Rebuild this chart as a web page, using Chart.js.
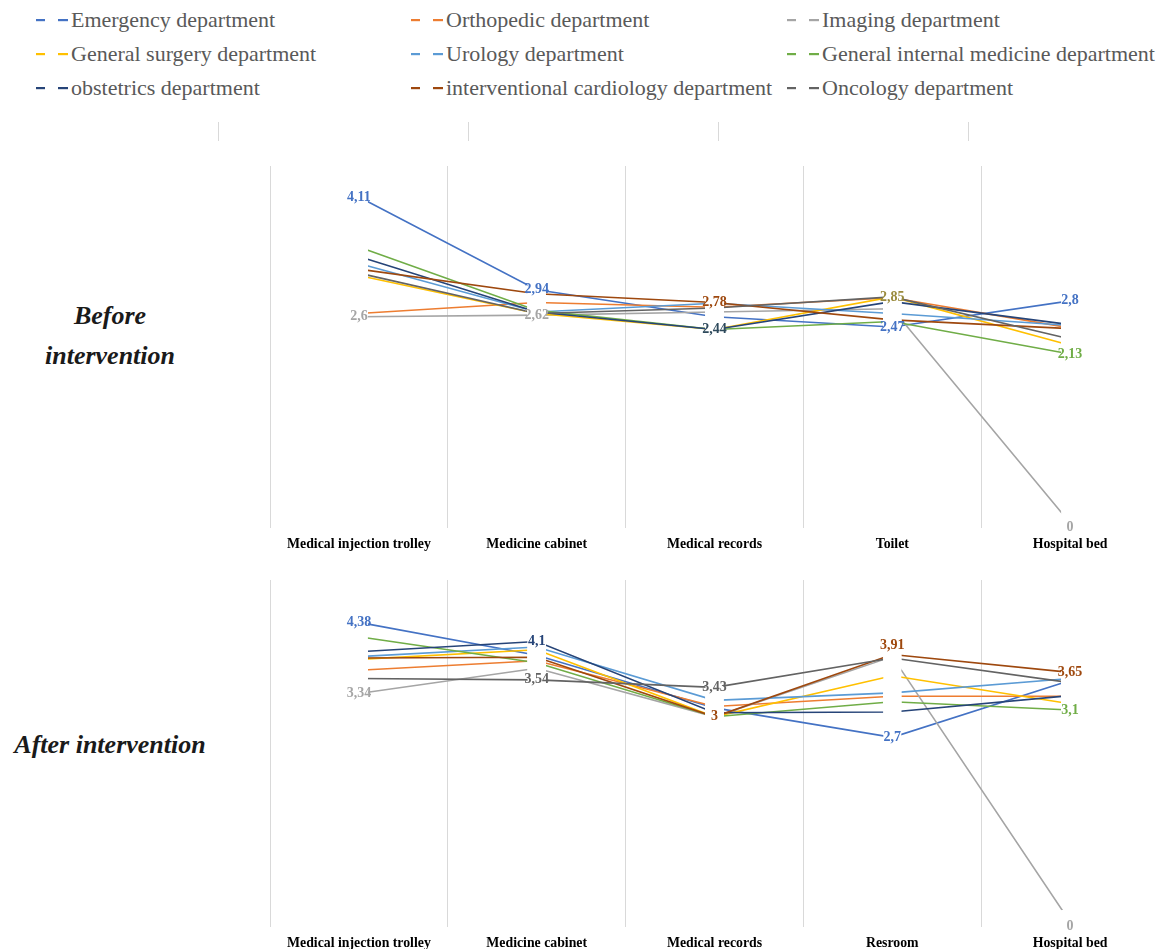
<!DOCTYPE html>
<html>
<head>
<meta charset="utf-8">
<script src="https://cdn.jsdelivr.net/npm/chart.js@4.4.0/dist/chart.umd.min.js"></script>
<style>
  html, body { margin: 0; padding: 0; background: #fff; overflow: hidden; }
  body { width: 1159px; height: 949px; position: relative; font-family: "Liberation Serif", serif; }
  .legend { position: absolute; left: 0; top: 0; width: 1159px; height: 110px; }
  .item { position: absolute; height: 30px; line-height: 30px; font-size: 22px; color: #595959; white-space: nowrap; }
  .item svg { position: absolute; left: 0; top: 14px; }
  .item span { position: absolute; left: 35px; top: 0; }
  .stub { position: absolute; top: 122px; width: 1px; height: 19px; background: #D9D9D9; }
  .side { position: absolute; width: 220px; text-align: center; font-weight: bold; font-style: italic; font-size: 26px; line-height: 40px; color: #1a1a1a; }
  .box { position: absolute; left: 262px; }
</style>
</head>
<body>
<div class="legend" id="legend"></div>
<div class="stub" style="left:218px"></div>
<div class="stub" style="left:468px"></div>
<div class="stub" style="left:718px"></div>
<div class="stub" style="left:968px"></div>

<div class="side" style="left:0; top:296px;">Before<br>intervention</div>
<div class="side" style="left:0; top:725px;">After intervention</div>

<div class="box" style="top:151px"><canvas id="before" width="897" height="412"></canvas></div>
<div class="box" style="top:565px"><canvas id="after" width="897" height="397"></canvas></div>

<script>
var departments = [
  "Emergency department", "Orthopedic department", "Imaging department",
  "General surgery department", "Urology department", "General internal medicine department",
  "obstetrics department", "interventional cardiology department", "Oncology department"
];
var colors = ["#4472C4", "#ED7D31", "#A5A5A5", "#FFC000", "#5B9BD5", "#70AD47", "#264478", "#9E480E", "#636363"];

var placesBefore = ["Medical injection trolley", "Medicine cabinet", "Medical records", "Toilet", "Hospital bed"];
var placesAfter = ["Medical injection trolley", "Medicine cabinet", "Medical records", "Resroom", "Hospital bed"];

// before intervention
var emergencyBefore   = [4.11, 2.94, 2.60, 2.47, 2.80];
var orthopedicBefore  = [2.64, 2.78, 2.72, 2.84, 2.46];
var imagingBefore     = [2.60, 2.62, 2.66, 2.70, 0];
var surgeryBefore     = [3.12, 2.64, 2.44, 2.85, 2.24];
var urologyBefore     = [3.27, 2.66, 2.77, 2.64, 2.49];
var internalBefore    = [3.48, 2.68, 2.44, 2.54, 2.13];
var obstetricsBefore  = [3.36, 2.66, 2.44, 2.79, 2.50];
var cardiologyBefore  = [3.20, 2.89, 2.78, 2.56, 2.45];
var oncologyBefore    = [3.15, 2.64, 2.71, 2.85, 2.32];

// after intervention
var emergencyAfter    = [4.38, 3.90, 3.13, 2.70, 3.53];
var orthopedicAfter   = [3.68, 3.82, 3.15, 3.30, 3.30];
var imagingAfter      = [3.34, 3.71, 3.00, 3.88, 0];
var surgeryAfter      = [3.84, 3.98, 3.00, 3.60, 3.19];
var urologyAfter      = [3.88, 4.02, 3.24, 3.35, 3.56];
var internalAfter     = [4.17, 3.79, 3.00, 3.22, 3.10];
var obstetricsAfter   = [3.95, 4.10, 3.06, 3.07, 3.31];
var cardiologyAfter   = [3.86, 3.87, 3.00, 3.91, 3.65];
var oncologyAfter     = [3.56, 3.54, 3.43, 3.86, 3.50];

var seriesBefore = [emergencyBefore, orthopedicBefore, imagingBefore, surgeryBefore, urologyBefore,
                    internalBefore, obstetricsBefore, cardiologyBefore, oncologyBefore];
var seriesAfter = [emergencyAfter, orthopedicAfter, imagingAfter, surgeryAfter, urologyAfter,
                   internalAfter, obstetricsAfter, cardiologyAfter, oncologyAfter];

// which points get a value label: [series, category]
var labelsBefore = [[0, 0], [2, 0], [0, 1], [2, 1], [7, 2], [6, 2], [3, 3], [0, 3], [0, 4], [5, 4], [2, 4]];
var labelsAfter = [[0, 0], [2, 0], [6, 1], [8, 1], [8, 2], [7, 2], [7, 3], [0, 3], [7, 4], [5, 4], [2, 4]];
// a couple of labels in the picture have blended colours, one sits above its point
var labelColor = { "before-6-2": "#2E4A5C", "before-3-3": "#9A8B3D" };
var labelLift = { "after-7-3": 9, "before-2-4": -4, "after-2-4": -4 };

// legend
var legend = document.getElementById("legend");
var colX = [36, 411, 787], rowY = [5, 39, 73];
departments.forEach(function (name, i) {
  var el = document.createElement("div");
  el.className = "item";
  el.style.left = colX[i % 3] + "px";
  el.style.top = rowY[Math.floor(i / 3)] + "px";
  el.innerHTML = '<svg width="34" height="3"><rect x="0" y="0" width="9" height="2.2" fill="' + colors[i] +
    '"/><rect x="22" y="0" width="10" height="2.2" fill="' + colors[i] + '"/></svg><span>' + name + '</span>';
  legend.appendChild(el);
});

var gapLabels = {
  id: "gapLabels",
  afterDatasetsDraw: function (chart, args, opts) {
    var ctx = chart.ctx;
    ctx.save();
    ctx.fillStyle = "#fff";
    chart.data.datasets.forEach(function (ds, d) {
      chart.getDatasetMeta(d).data.forEach(function (pt) {
        ctx.fillRect(pt.x - 9, pt.y - 12, 18, 24);
      });
    });
    ctx.font = "bold 14px 'Liberation Serif'";
    ctx.textAlign = "center";
    ctx.textBaseline = "middle";
    opts.points.forEach(function (p) {
      var pt = chart.getDatasetMeta(p[0]).data[p[1]];
      var v = chart.data.datasets[p[0]].data[p[1]];
      var key = opts.name + "-" + p[0] + "-" + p[1];
      ctx.fillStyle = labelColor[key] || colors[p[0]];
      ctx.fillText(String(v).replace(".", ","), pt.x, pt.y - (labelLift[key] || 0));
    });
    ctx.restore();
  }
};

function makeChart(id, name, places, series, labels, yMax) {
  var datasets = series.map(function (vals, i) {
    return {
      label: departments[i],
      data: vals,
      borderColor: colors[i],
      backgroundColor: colors[i],
      borderWidth: 1.6,
      pointRadius: 0,
      tension: 0,
      order: -i
    };
  });
  return new Chart(document.getElementById(id), {
    type: "line",
    data: { labels: places, datasets: datasets },
    plugins: [gapLabels],
    options: {
      responsive: false,
      animation: false,
      layout: { padding: { left: 8, top: 15, right: 0, bottom: 0 } },
      plugins: {
        legend: { display: false },
        tooltip: { enabled: false },
        gapLabels: { name: name, points: labels }
      },
      scales: {
        x: {
          offset: true,
          grid: { color: "#D9D9D9", offset: true, tickLength: 5, lineWidth: 1 },
          border: { display: false },
          ticks: {
            color: "#000",
            padding: 8,
            maxRotation: 0,
            autoSkip: false,
            font: { family: "Liberation Serif", weight: "bold", size: 13.8 }
          },
          afterFit: function (s) { s.height = 40; }
        },
        y: { display: false, min: 0, max: yMax }
      }
    }
  });
}

makeChart("before", "before", placesBefore, seriesBefore, labelsBefore, 4.5);
makeChart("after", "after", placesAfter, seriesAfter, labelsAfter, 5);
</script>
</body>
</html>
